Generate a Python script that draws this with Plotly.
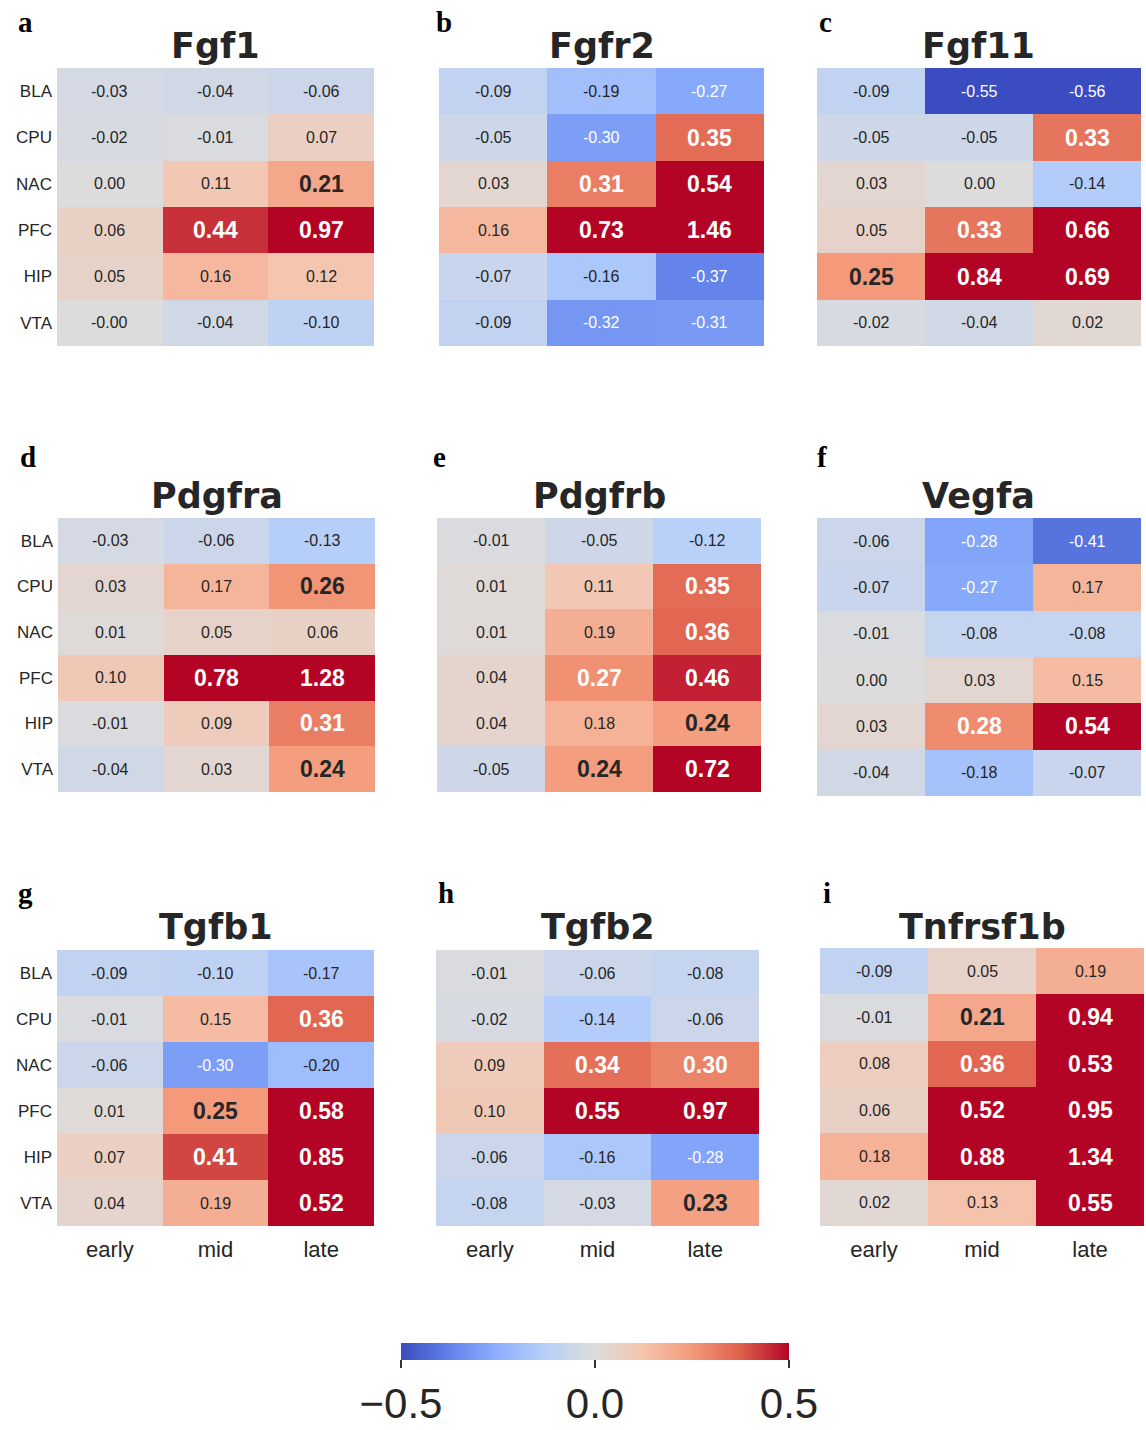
import plotly.graph_objects as go

# ---------------- data ----------------
regions = ["BLA", "CPU", "NAC", "PFC", "HIP", "VTA"]
stages = ["early", "mid", "late"]
genes = ["Fgf1", "Fgfr2", "Fgf11", "Pdgfra", "Pdgfrb", "Vegfa", "Tgfb1", "Tgfb2", "Tnfrsf1b"]
letters = ["a", "b", "c", "d", "e", "f", "g", "h", "i"]

fgf1 = [[-0.03, -0.04, -0.06], [-0.02, -0.01, 0.07], [0.00, 0.11, 0.21],
        [0.06, 0.44, 0.97], [0.05, 0.16, 0.12], [-0.0, -0.04, -0.10]]
fgfr2 = [[-0.09, -0.19, -0.27], [-0.05, -0.30, 0.35], [0.03, 0.31, 0.54],
         [0.16, 0.73, 1.46], [-0.07, -0.16, -0.37], [-0.09, -0.32, -0.31]]
fgf11 = [[-0.09, -0.55, -0.56], [-0.05, -0.05, 0.33], [0.03, 0.00, -0.14],
         [0.05, 0.33, 0.66], [0.25, 0.84, 0.69], [-0.02, -0.04, 0.02]]
pdgfra = [[-0.03, -0.06, -0.13], [0.03, 0.17, 0.26], [0.01, 0.05, 0.06],
          [0.10, 0.78, 1.28], [-0.01, 0.09, 0.31], [-0.04, 0.03, 0.24]]
pdgfrb = [[-0.01, -0.05, -0.12], [0.01, 0.11, 0.35], [0.01, 0.19, 0.36],
          [0.04, 0.27, 0.46], [0.04, 0.18, 0.24], [-0.05, 0.24, 0.72]]
vegfa = [[-0.06, -0.28, -0.41], [-0.07, -0.27, 0.17], [-0.01, -0.08, -0.08],
         [0.00, 0.03, 0.15], [0.03, 0.28, 0.54], [-0.04, -0.18, -0.07]]
tgfb1 = [[-0.09, -0.10, -0.17], [-0.01, 0.15, 0.36], [-0.06, -0.30, -0.20],
         [0.01, 0.25, 0.58], [0.07, 0.41, 0.85], [0.04, 0.19, 0.52]]
tgfb2 = [[-0.01, -0.06, -0.08], [-0.02, -0.14, -0.06], [0.09, 0.34, 0.30],
         [0.10, 0.55, 0.97], [-0.06, -0.16, -0.28], [-0.08, -0.03, 0.23]]
tnfrsf1b = [[-0.09, 0.05, 0.19], [-0.01, 0.21, 0.94], [0.08, 0.36, 0.53],
            [0.06, 0.52, 0.95], [0.18, 0.88, 1.34], [0.02, 0.13, 0.55]]
values = [fgf1, fgfr2, fgf11, pdgfra, pdgfrb, vegfa, tgfb1, tgfb2, tnfrsf1b]

cbar_ticks = [-0.5, 0.0, 0.5]

# ---------------- layout geometry (pixels) ----------------
W, H = 1146, 1430
# (x0, x1, y0, y1) heatmap boxes
boxes = [
    (57, 374, 68, 346), (439, 764, 68, 346), (817, 1141, 68, 346),
    (58, 375, 518, 792), (437, 761, 518, 792), (817, 1141, 518, 796),
    (57, 374, 950, 1226), (436, 759, 950, 1226), (820, 1144, 948, 1226),
]
title_y = [46, 46, 46, 496, 496, 496, 927, 927, 927]
letter_pos = [(16, 22), (434, 22), (817, 22), (18, 457), (431, 457), (815, 457),
              (16, 893), (436, 893), (821, 893)]

coolwarm = [
    [0.0, "rgb(59,76,192)"], [0.125, "rgb(98,130,234)"], [0.25, "rgb(141,176,254)"],
    [0.375, "rgb(184,208,249)"], [0.5, "rgb(221,220,220)"], [0.625, "rgb(245,196,173)"],
    [0.75, "rgb(244,154,123)"], [0.875, "rgb(222,96,77)"], [1.0, "rgb(180,4,38)"],
]

def px(x):
    return x / W

def py(y):
    return 1 - y / H

fig = go.Figure()
annotations = []
layout = {}

for k, (gene, z) in enumerate(zip(genes, values)):
    n = "" if k == 0 else str(k + 1)
    xa, ya = "x" + n, "y" + n
    fig.add_trace(go.Heatmap(
        z=z, x=stages, y=regions, coloraxis="coloraxis",
        xaxis=xa, yaxis=ya, hoverinfo="skip", xgap=0, ygap=0,
    ))
    x0, x1, y0, y1 = boxes[k]
    col, row = k % 3, k // 3
    layout["xaxis" + n] = dict(
        domain=[px(x0), px(x1)], anchor=ya, showgrid=False, zeroline=False,
        showline=False, ticks="", showticklabels=(row == 2), ticklabelstandoff=8,
        tickfont=dict(family="Liberation Sans, Arial", size=22, color="#262626"),
        type="category", fixedrange=True, automargin=False,
    )
    layout["yaxis" + n] = dict(
        domain=[py(y1), py(y0)], anchor=xa, showgrid=False, zeroline=False,
        showline=False, ticks="", showticklabels=(col == 0), autorange="reversed",
        tickfont=dict(family="Liberation Sans, Arial", size=17, color="#262626"),
        type="category", fixedrange=True, automargin=False, ticklabelstandoff=4,
    )
    # cell labels
    for i, r in enumerate(regions):
        for j, s in enumerate(stages):
            v = z[i][j]
            txt = f"{v:.2f}"
            color = "white" if abs(v) >= 0.27 else "#262626"
            if v >= 0.2:
                txt = "<b>" + txt + "</b>"
                font = dict(family="Liberation Sans, Arial", size=23, color=color)
            else:
                font = dict(family="Liberation Sans, Arial", size=16, color=color)
            annotations.append(dict(x=s, y=r, xref=xa, yref=ya, text=txt,
                                    showarrow=False, font=font))
    # title
    annotations.append(dict(
        x=px((x0 + x1) / 2), y=py(title_y[k]), xref="paper", yref="paper",
        text="<b>" + gene + "</b>", showarrow=False, xanchor="center", yanchor="middle",
        font=dict(family="DejaVu Sans", size=35, color="#262626"),
    ))
    # panel letter
    lx, ly = letter_pos[k]
    annotations.append(dict(
        x=px(lx), y=py(ly), xref="paper", yref="paper", text="<b>" + letters[k] + "</b>",
        showarrow=False, xanchor="left", yanchor="middle",
        font=dict(family="Liberation Serif, Times New Roman", size=29, color="black"),
    ))

fig.update_layout(
    width=W, height=H, margin=dict(l=0, r=0, t=0, b=0, autoexpand=False),
    paper_bgcolor="white", plot_bgcolor="white", showlegend=False,
    annotations=annotations,
    coloraxis=dict(
        colorscale=coolwarm, cmin=-0.5, cmax=0.5,
        colorbar=dict(
            orientation="h", x=px((401 + 789) / 2), xanchor="center",
            y=py(1343), yanchor="top", thickness=17, thicknessmode="pixels",
            len=388, lenmode="pixels", outlinewidth=0, xpad=0, ypad=0,
            tickvals=cbar_ticks, tickformat=".1f", ticks="outside", ticklen=8,
            tickwidth=2, tickcolor="#333333",
            tickfont=dict(family="Liberation Sans, Arial", size=42, color="#262626"),
        ),
    ),
    **layout,
)

fig.write_html(
    "out.html",
    config={"displayModeBar": False},
    post_script="document.body.style.margin='0px';document.body.style.overflow='hidden';",
)
